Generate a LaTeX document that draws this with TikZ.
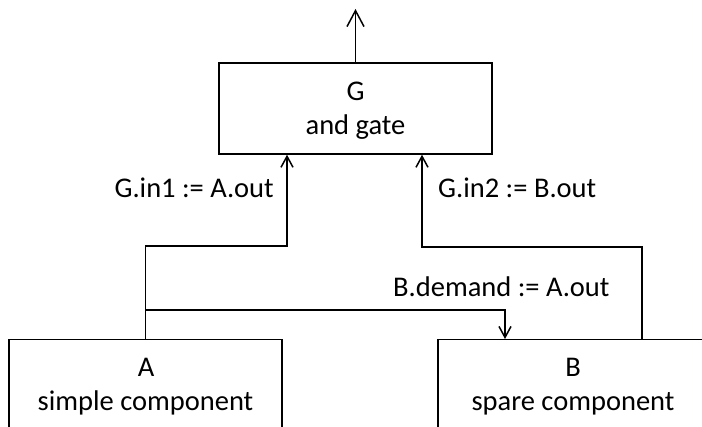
\documentclass[tikz,border=0pt]{standalone}
\usepackage{fontspec}
\setmainfont{Carlito}
\usetikzlibrary{arrows.meta}
\begin{document}
\begin{tikzpicture}[x=1pt,y=-1pt,
  wire/.style={line width=1.5pt, draw=black},
  box/.style={draw=black, line width=1.5pt, minimum width=273pt, inner sep=0pt},
  tip/.style={-{Straight Barb[length=11pt,width=12pt]}},
  bigtip/.style={-{Straight Barb[length=16pt,width=17pt]}},
  boxtext/.style={font=\fontsize{28.5}{28.5}\selectfont, inner sep=0pt},
  lbl/.style={font=\fontsize{28.5}{28.5}\selectfont, inner sep=0pt}]
\useasboundingbox (0,0) rectangle (702,427);
% component boxes (A and B run past the lower and right edges)
\begin{scope}
  \clip (0,0) rectangle (702,427);
  \node[box, minimum height=91pt] (G) at (355.5,108.5) {};
  \node[box, minimum height=110pt, anchor=north] (A) at (145.5,339) {};
  \node[box, minimum height=110pt, anchor=north west] (B) at (437,339) {};
\end{scope}
% box captions
\node[boxtext, anchor=base] (Gname) at (355.5,101) {G};
\node[boxtext, anchor=base] (Gtype) at (355.5,135) {and gate};
\node[boxtext, anchor=base] (Aname) at (146,377) {A};
\node[boxtext, anchor=base] (Atype) at (145.5,411) {simple component};
\node[boxtext, anchor=base] (Bname) at (573,377) {B};
\node[boxtext, anchor=base] (Btype) at (573,411) {spare component};
% routing points
\coordinate (gout) at (355.5,9);
\coordinate (ajog) at (145.5,246);
\coordinate (split) at (145.5,310);
\coordinate (bjog) at (642,247);
% connectors
\draw[wire, bigtip] (G.north) -- (gout);
\draw[wire, tip] (A.north) -- (ajog) -| ([xshift=-68.5pt]G.south);
\draw[wire, tip] (split) -| ([xshift=68pt]B.north west);
\draw[wire, tip] ([xshift=205pt]B.north west) -- (bjog) -| ([xshift=66.5pt]G.south);
% assignment labels
\node[lbl, anchor=base east] (l1) at (274,198) {G.in1 := A.out};
\node[lbl, anchor=base west] (l2) at (438,198) {G.in2 := B.out};
\node[lbl, anchor=base west] (l3) at (393,297) {B.demand := A.out};
\end{tikzpicture}
\end{document}
